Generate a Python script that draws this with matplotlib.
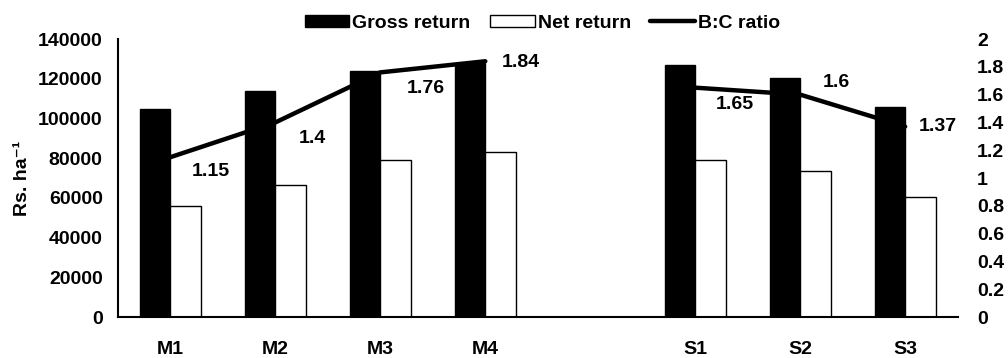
import numpy as np
import matplotlib
matplotlib.use('Agg')
import matplotlib.pyplot as plt

plt.rcParams['font.family'] = ['Liberation Sans', 'DejaVu Sans']
plt.rcParams['font.weight'] = 'bold'

cats = ['M1', 'M2', 'M3', 'M4', '', 'S1', 'S2', 'S3']
gross = [105000, 114000, 124000, 128000, np.nan, 127000, 120500, 106000]
net = [56000, 66600, 79000, 83200, np.nan, 79000, 73700, 60600]
bc = [1.15, 1.4, 1.76, 1.84, np.nan, 1.65, 1.6, 1.37]
# label offsets in pixels (dx, dy)
lab_off = [(40, -14), (37, -16), (45, -16), (36, -1), None, (40, -17), (36, 12), (33, 0)]

x = np.arange(len(cats))
w = 0.29

fig = plt.figure(figsize=(10.08, 3.58), dpi=100)
ax = fig.add_axes([0.117, 0.1145, 0.833, 0.7765])
ax.bar(x - w/2, gross, w, color='black', edgecolor='black', linewidth=1, label='Gross return')
ax.bar(x + w/2, net, w, color='white', edgecolor='black', linewidth=1, label='Net return')
ax.set_ylim(0, 140000)
ax.set_yticks(np.arange(0, 140001, 20000))
ax.set_xlim(-0.5, len(cats) - 0.5)
ax.set_xticks(x)
ax.set_xticklabels(cats)
ax.tick_params(axis='x', length=0, pad=17, labelsize=14)
ax.tick_params(axis='y', length=0, pad=11, labelsize=14)
for s in ['top', 'right']:
    ax.spines[s].set_visible(False)
ax.spines['left'].set_linewidth(1.5)
ax.spines['bottom'].set_linewidth(1.5)
ax.set_ylabel('Rs. ha\u207b\u00b9', fontsize=14, fontweight='bold')
ax.yaxis.set_label_coords(-0.104, 0.5)

ax2 = ax.twinx()
ax2.plot(x, bc, color='black', linewidth=3.2, solid_capstyle='round', label='B:C ratio')
ax2.set_ylim(0, 2)
ax2.set_yticks(np.arange(0, 2.01, 0.2))
ax2.set_yticklabels(['0', '0.2', '0.4', '0.6', '0.8', '1', '1.2', '1.4', '1.6', '1.8', '2'])
ax2.tick_params(axis='y', length=0, pad=14, labelsize=14)
for s in ['top', 'right', 'left', 'bottom']:
    ax2.spines[s].set_visible(False)

for xi, v, off in zip(x, bc, lab_off):
    if off is None:
        continue
    ax2.annotate(f'{v:g}', (xi, v), xytext=off, textcoords='offset pixels',
                 ha='center', va='center', fontsize=14, fontweight='bold')

h1, l1 = ax.get_legend_handles_labels()
h2, l2 = ax2.get_legend_handles_labels()
fig.legend(h1 + h2, l1 + l2, ncol=3, frameon=False, loc='center',
           bbox_to_anchor=(0.538, 0.935), fontsize=14, handlelength=2.3,
           handletextpad=0.15, columnspacing=1.0, handleheight=0.6)

fig.savefig('out.png', dpi=100)
